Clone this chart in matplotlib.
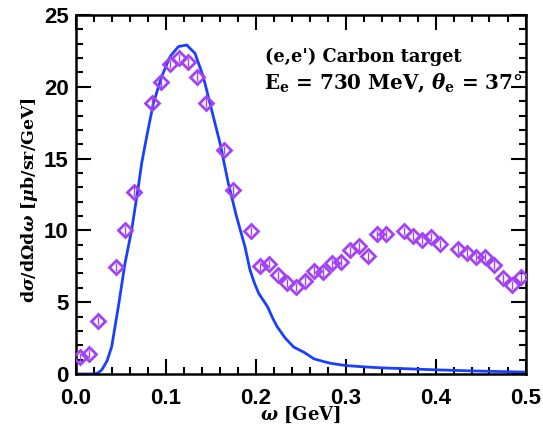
import matplotlib
matplotlib.use("Agg")
import matplotlib.pyplot as plt
from matplotlib.ticker import MultipleLocator, FormatStrFormatter

# data points (omega [GeV], cross section)
data_w = [0.005, 0.015, 0.025, 0.045, 0.055, 0.065, 0.085, 0.095, 0.105, 0.115,
          0.125, 0.135, 0.145, 0.165, 0.175, 0.195, 0.205, 0.215, 0.225, 0.235,
          0.245, 0.255, 0.265, 0.275, 0.285, 0.295, 0.305, 0.315, 0.325, 0.335,
          0.345, 0.365, 0.375, 0.385, 0.395, 0.405, 0.425, 0.435, 0.445, 0.455,
          0.465, 0.475, 0.485, 0.495]
data_xs = [1.15, 1.40, 3.70, 7.45, 10.0, 12.7, 18.9, 20.3, 21.6, 22.0,
           21.7, 20.7, 18.9, 15.6, 12.8, 9.95, 7.5, 7.65, 6.9, 6.33,
           6.05, 6.5, 7.2, 7.08, 7.7, 7.83, 8.62, 8.9, 8.2, 9.72,
           9.76, 9.95, 9.6, 9.35, 9.53, 9.06, 8.72, 8.44, 8.16, 8.16,
           7.62, 6.66, 6.2, 6.73]
data_err = [0.3] * len(data_w)

# model curve
curve_w = [0.0, 0.010, 0.020, 0.025, 0.0291, 0.035, 0.0402, 0.0476, 0.055, 0.0624,
           0.0698, 0.0735, 0.0791, 0.0865, 0.0957, 0.105, 0.1143, 0.1236, 0.1328,
           0.142, 0.1513, 0.1606, 0.1698, 0.179, 0.1883, 0.1939, 0.199, 0.2037,
           0.209, 0.2137, 0.219, 0.224, 0.233, 0.2426, 0.2537, 0.2648, 0.275,
           0.283, 0.300, 0.320, 0.339, 0.370, 0.400, 0.450, 0.500]
curve_xs = [0.0, 0.0, 0.0, 0.08, 0.28, 0.9, 1.9, 4.69, 7.71, 10.03,
            13.04, 14.67, 16.53, 18.85, 20.7, 22.1, 22.8, 22.91, 22.33,
            20.7, 18.38, 16.07, 13.28, 10.95, 8.86, 7.24, 6.3, 5.6,
            5.1, 4.65, 3.9, 3.3, 2.5, 1.87, 1.52, 1.06, 0.88,
            0.75, 0.59, 0.50, 0.43, 0.36, 0.29, 0.20, 0.13]

plt.rcParams['mathtext.fontset'] = 'custom'
plt.rcParams['mathtext.rm'] = 'DejaVu Serif:bold'
plt.rcParams['mathtext.it'] = 'DejaVu Serif:bold:italic'
plt.rcParams['mathtext.bf'] = 'DejaVu Serif:bold'

fig = plt.figure(figsize=(5.43, 4.32), dpi=100)
ax = fig.add_axes([75.5/543, 1-374/432, 450/543, 359/432])

ax.plot(curve_w, curve_xs, color='#1a40ff', lw=2.0, zorder=2)
purple = '#a242f4'
ax.errorbar(data_w, data_xs, yerr=data_err, fmt='D', ms=7, mfc='none',
            mec=purple, mew=2.0, ecolor=purple, elinewidth=1.0, capsize=0, zorder=3)

ax.set_xlim(0, 0.5)
ax.set_ylim(0, 25)
ax.xaxis.set_major_locator(MultipleLocator(0.1))
ax.xaxis.set_minor_locator(MultipleLocator(0.02))
ax.yaxis.set_major_locator(MultipleLocator(5))
ax.yaxis.set_minor_locator(MultipleLocator(1))
ax.xaxis.set_major_formatter(FormatStrFormatter('%.1f'))
ax.tick_params(which='both', direction='in', top=True, right=True, width=1.5)
ax.tick_params(which='major', length=11)
ax.tick_params(which='minor', length=5)
for s in ax.spines.values():
    s.set_linewidth(1.8)

for lab in ax.get_xticklabels() + ax.get_yticklabels():
    lab.set_fontfamily('Liberation Sans')
    lab.set_fontweight('bold')
    lab.set_fontsize(16)
ax.tick_params(axis='x', pad=10)
ax.tick_params(axis='y', pad=5)

ax.set_xlabel(r'$\omega$ [GeV]', fontfamily='DejaVu Serif', fontweight='bold', fontsize=13, labelpad=-3)
ax.set_ylabel(r'd$\sigma$/d$\Omega$d$\omega$ [$\mu$b/sr/GeV]', fontfamily='DejaVu Serif',
              fontweight='bold', fontsize=12.5)
ax.yaxis.set_label_coords(-0.103, 0.485)
ax.yaxis.label.set_verticalalignment('center')

ax.text(0.211, 22.1, "(e,e') Carbon target", fontfamily='DejaVu Serif', fontweight='bold',
        fontsize=12.8, va='center', ha='left')
ax.text(0.210, 20.26, r"E$_\mathrm{e}$ = 730 MeV, $\theta_\mathrm{e}$ = 37°", fontfamily='DejaVu Serif',
        fontweight='bold', fontsize=14.3, va='center', ha='left')

fig.savefig('out.png', dpi=100)
